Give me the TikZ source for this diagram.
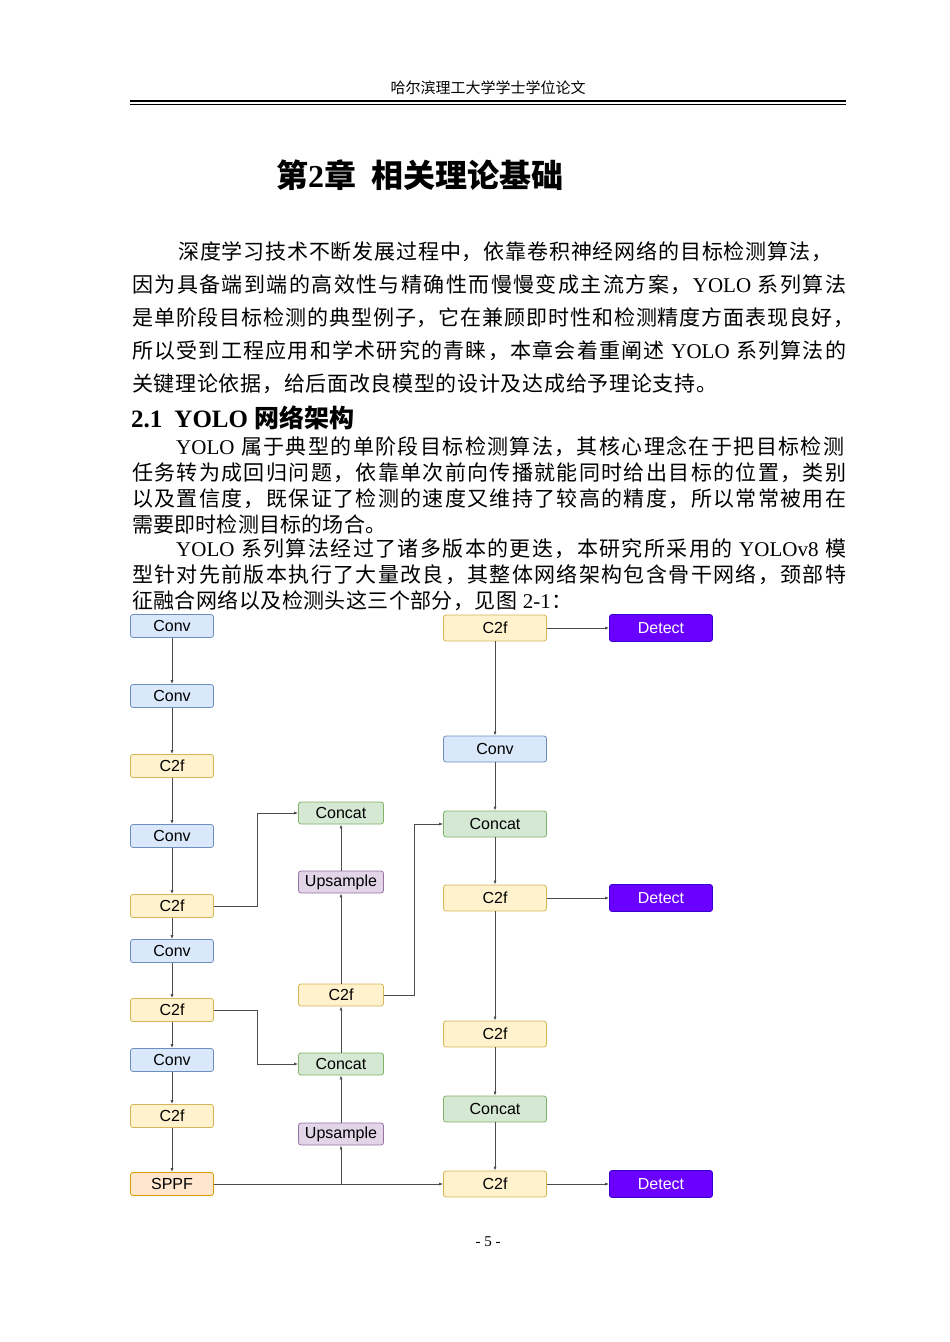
\documentclass[tikz,border=0pt]{standalone}
\usepackage{fontspec}
\setmainfont{Liberation Serif}
\newfontfamily\cjk{Noto Sans CJK SC}
\newfontfamily\cjkb{Noto Sans CJK SC Bold}
\newfontfamily\arl{Liberation Sans}
\definecolor{bF}{HTML}{DAE8FC}\definecolor{bD}{HTML}{6C8EBF}
\definecolor{yF}{HTML}{FFF2CC}\definecolor{yD}{HTML}{D6B656}
\definecolor{gF}{HTML}{D5E8D4}\definecolor{gD}{HTML}{82B366}
\definecolor{pF}{HTML}{E1D5E7}\definecolor{pD}{HTML}{9673A6}
\definecolor{oF}{HTML}{FFE6CC}\definecolor{oD}{HTML}{D79B00}
\definecolor{dF}{HTML}{6A00FF}\definecolor{dD}{HTML}{3700CC}
\usetikzlibrary{arrows.meta}
\tikzset{
 box/.style={rounded corners=2.5pt,line width=0.8pt,inner sep=0pt,font=\arl\fontsize{16}{16}\selectfont},
 L/.style={box,minimum width=83pt,minimum height=23pt},
 M/.style={box,minimum width=85pt,minimum height=22pt},
 R/.style={box,minimum width=103pt,minimum height=26pt},
 bl/.style={fill=bF,draw=bD}, ye/.style={fill=yF,draw=yD}, gr/.style={fill=gF,draw=gD},
 pu/.style={fill=pF,draw=pD}, or/.style={fill=oF,draw=oD},
 de/.style={R,fill=dF,draw=dD,text=white,minimum height=27pt},
 ar/.style={draw=black!70,line width=0.7pt,-{Latex[length=4pt,width=3pt]}},
 tl/.style={anchor=west,inner sep=0pt,font=\cjk\fontsize{21}{21}\selectfont},
}
\newcommand{\lat}[1]{{\rmfamily #1}}
\def\spreadA#1{\ifx\relax#1\else{#1}\hskip 0pt plus 1fil\expandafter\spreadA\fi}
\newcommand{\jw}[2]{\hbox to #1{\spreadA#2\relax\unskip}}
\newcommand{\jl}[1]{\jw{714pt}{#1}}
\begin{document}
\begin{tikzpicture}[x=1pt,y=-1pt]
\useasboundingbox (0,0) rectangle (950,1342);
\node[inner sep=0pt,font=\cjk\fontsize{15}{15}\selectfont] (hdr) at (488,88) {哈尔滨理工大学学士学位论文};
\draw[line width=2.5pt] (130,101) -- (846,101);
\draw[line width=0.8pt] (130,104.5) -- (846,104.5);
\node[inner sep=0pt,font=\fontsize{32}{32}\selectfont\bfseries] (title) at (420,175) {{\cjkb 第}2{\cjkb 章}\hspace{16pt}{\cjkb 相关理论基础}};
\node[tl] (p1) at (178,252) {\jw{654pt}{深度学习技术不断发展过程中，依靠卷积神经网络的目标检测算法，}};
\node[tl] (p2) at (132,285) {\jl{因为具备端到端的高效性与精确性而慢慢变成主流方案，{\lat{YOLO\ }}系列算法}};
\node[tl] (p3) at (132,318) {\jw{722pt}{是单阶段目标检测的典型例子，它在兼顾即时性和检测精度方面表现良好，}};
\node[tl] (p4) at (132,351) {\jl{所以受到工程应用和学术研究的青睐，本章会着重阐述{\lat{\ YOLO\ }}系列算法的}};
\node[tl] (p5) at (132,384) {\jw{585pt}{关键理论依据，给后面改良模型的设计及达成给予理论支持。}};
\node[tl,font=\fontsize{25}{25}\selectfont\bfseries] (sec) at (131,418) {2.1\hspace{12pt}YOLO {\cjkb 网络架构}};
\node[tl] (q1) at (176,447) {\jw{668pt}{{\lat{YOLO\ }}属于典型的单阶段目标检测算法，其核心理念在于把目标检测}};
\node[tl] (q2) at (132,473) {\jl{任务转为成回归问题，依靠单次前向传播就能同时给出目标的位置，类别}};
\node[tl] (q3) at (132,499) {\jl{以及置信度，既保证了检测的速度又维持了较高的精度，所以常常被用在}};
\node[tl] (q4) at (132,524) {\jw{254pt}{需要即时检测目标的场合。}};
\node[tl] (q5) at (176,549) {\jw{670pt}{{\lat{YOLO\ }}系列算法经过了诸多版本的更迭，本研究所采用的{\lat{\ YOLOv8\ }}模}};
\node[tl] (q6) at (132,575) {\jl{型针对先前版本执行了大量改良，其整体网络架构包含骨干网络，颈部特}};
\node[tl] (q7) at (132,601) {\jw{440pt}{征融合网络以及检测头这三个部分，见图{\lat{\ 2-1}}：}};
% left column
\node[L,bl] (a1) at (172,626) {Conv};
\node[L,bl] (a2) at (172,696) {Conv};
\node[L,ye] (a3) at (172,766) {C2f};
\node[L,bl] (a4) at (172,836) {Conv};
\node[L,ye] (a5) at (172,906) {C2f};
\node[L,bl] (a6) at (172,951) {Conv};
\node[L,ye] (a7) at (172,1010) {C2f};
\node[L,bl] (a8) at (172,1060) {Conv};
\node[L,ye] (a9) at (172,1116) {C2f};
\node[L,or] (a10) at (172,1184) {SPPF};
% middle
\node[M,gr] (m1) at (341,813) {Concat};
\node[M,pu] (m2) at (341,882) {Upsample};
\node[M,ye] (m3) at (341,995) {C2f};
\node[M,gr] (m4) at (341,1064) {Concat};
\node[M,pu] (m5) at (341,1134) {Upsample};
% right
\node[R,ye] (r1) at (495,628) {C2f};
\node[R,bl] (r2) at (495,749) {Conv};
\node[R,gr] (r3) at (495,824) {Concat};
\node[R,ye] (r4) at (495,898) {C2f};
\node[R,ye] (r5) at (495,1034) {C2f};
\node[R,gr] (r6) at (495,1109) {Concat};
\node[R,ye] (r7) at (495,1184) {C2f};
\node[de] (d1) at (661,628) {Detect};
\node[de] (d2) at (661,898) {Detect};
\node[de] (d3) at (661,1184) {Detect};
\coordinate (j) at (341,1184);
\foreach \u/\v in {a1/a2,a2/a3,a3/a4,a4/a5,a5/a6,a6/a7,a7/a8,a8/a9,a9/a10,
  m5/m4,m4/m3,m3/m2,m2/m1,r1/r2,r2/r3,r3/r4,r4/r5,r5/r6,r6/r7,r1/d1,r4/d2,r7/d3}
  \draw[ar] (\u) -- (\v);
\draw[ar] (a5.east) -- (257,906) |- (m1.west);
\draw[ar] (a7.east) -- (257,1010) |- (m4.west);
\draw[ar] (m3.east) -- (414,995) |- (r3.west);
\draw[ar] (a10.east) -- (r7.west);
\draw[ar] (j) -- (m5.south);
\node[inner sep=0pt,font=\fontsize{15}{15}\selectfont] (pg) at (488,1242) {-\ 5\ -};
\end{tikzpicture}
\end{document}
